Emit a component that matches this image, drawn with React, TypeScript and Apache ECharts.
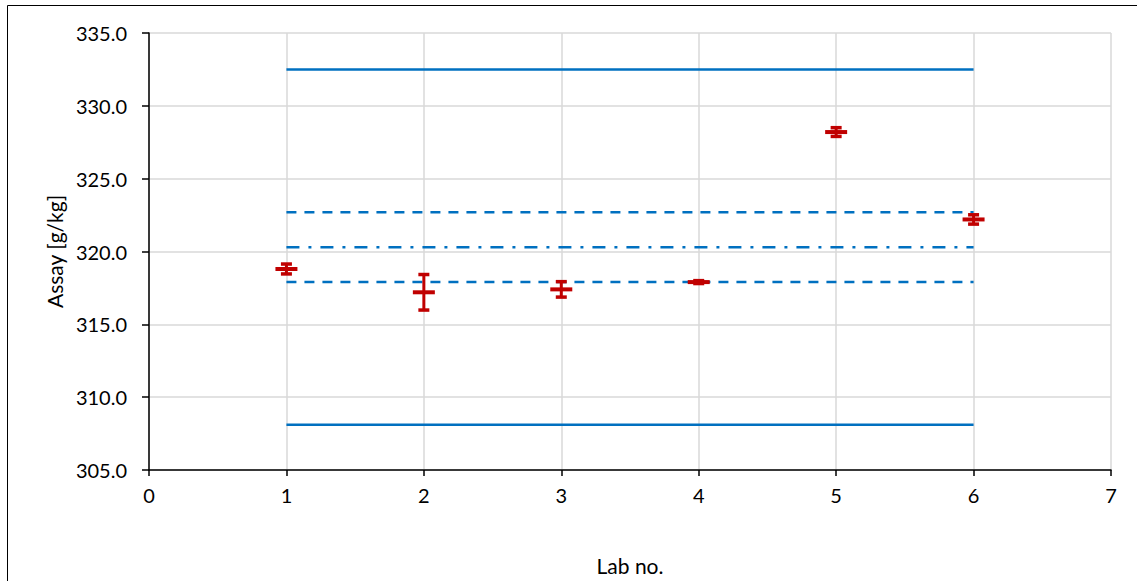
import React, { useEffect, useRef } from "react";
import * as echarts from "echarts";

const labs = [1, 2, 3, 4, 5, 6];
const means = [318.8, 317.2, 317.4, 317.9, 328.2, 322.2];
const uncertainties = [0.34, 1.22, 0.53, 0.1, 0.3, 0.32];
const referenceValue = 320.3;
const innerLimits = [317.9, 322.7];
const outerLimits = [308.1, 332.5];
const lineStart = 1;
const lineEnd = 6;

const BLUE = "#0070C0";
const RED = "#C00000";
const FONT = "Lato";

export default function App() {
  const ref = useRef<HTMLDivElement>(null);
  useEffect(() => {
    if (!ref.current) return;
    const chart = echarts.init(ref.current, null, { renderer: "svg" });
    const errorData = labs.map((l, i) => [l, means[i], means[i] - uncertainties[i], means[i] + uncertainties[i]]);
    const hLine = (v: number, type: any, z = 2) => ({
      type: "line",
      data: [[lineStart, v], [lineEnd, v]],
      symbol: "none",
      silent: true,
      z,
      lineStyle: { color: BLUE, width: 2.5, type },
    });
    chart.setOption({
      animation: false,
      graphic: [
        {
          type: "rect",
          shape: { x: 7.5, y: 5.5, width: 1200, height: 700 },
          style: { fill: "none", stroke: "#000", lineWidth: 1 },
          silent: true,
        },
      ],
      grid: { left: 149, right: 26, top: 33, bottom: 110, containLabel: false },
      xAxis: {
        type: "value",
        min: 0,
        max: 7,
        interval: 1,
        name: "Lab no.",
        nameLocation: "middle",
        nameGap: 85,
        nameTextStyle: { fontFamily: FONT, fontSize: 21, color: "#000" },
        axisLine: { show: true, onZero: false, lineStyle: { color: "#000", width: 1.5 } },
        axisTick: { show: true, length: 6, lineStyle: { color: "#000", width: 1.5 } },
        axisLabel: { fontFamily: FONT, fontSize: 20, color: "#000", margin: 15 },
        splitLine: { show: true, lineStyle: { color: "#D9D9D9", width: 1.5 } },
      },
      yAxis: {
        type: "value",
        min: 305,
        max: 335,
        interval: 5,
        name: "Assay [g/kg]",
        nameLocation: "middle",
        nameGap: 80,
        nameTextStyle: { fontFamily: FONT, fontSize: 21, color: "#000" },
        axisLine: { show: true, onZero: false, lineStyle: { color: "#000", width: 1.5 } },
        axisTick: { show: true, length: 7, lineStyle: { color: "#000", width: 1.5 } },
        axisLabel: {
          fontFamily: FONT,
          fontSize: 20,
          color: "#000",
          margin: 22,
          formatter: (v: number) => v.toFixed(1),
        },
        splitLine: { show: true, lineStyle: { color: "#D9D9D9", width: 1.5 } },
      },
      series: [
        hLine(outerLimits[1], "solid"),
        hLine(outerLimits[0], "solid"),
        hLine(innerLimits[1], [10, 8]),
        hLine(innerLimits[0], [10, 8]),
        hLine(referenceValue, [13, 9, 3, 9]),
        {
          type: "custom",
          z: 5,
          data: errorData,
          renderItem: (params: any, api: any) => {
            const x = api.value(0);
            const c = api.coord([x, api.value(1)]);
            const lo = api.coord([x, api.value(2)]);
            const hi = api.coord([x, api.value(3)]);
            const style = { stroke: RED, lineWidth: 3, fill: "none" };
            const capW = 11;
            const markW = 22;
            return {
              type: "group",
              children: [
                { type: "line", shape: { x1: c[0], y1: hi[1], x2: c[0], y2: lo[1] }, style },
                { type: "line", shape: { x1: c[0] - capW / 2, y1: hi[1], x2: c[0] + capW / 2, y2: hi[1] }, style: { ...style, lineWidth: 3.5 } },
                { type: "line", shape: { x1: c[0] - capW / 2, y1: lo[1], x2: c[0] + capW / 2, y2: lo[1] }, style: { ...style, lineWidth: 3.5 } },
                { type: "rect", shape: { x: c[0] - markW / 2, y: c[1] - 2, width: markW, height: 4 }, style: { fill: RED } },
              ],
            };
          },
        },
      ],
    });
    return () => chart.dispose();
  }, []);
  return (
    <div
      ref={ref}
      style={{ position: "absolute", left: 0, top: 0, width: 1137, height: 581, background: "#fff" }}
    />
  );
}
